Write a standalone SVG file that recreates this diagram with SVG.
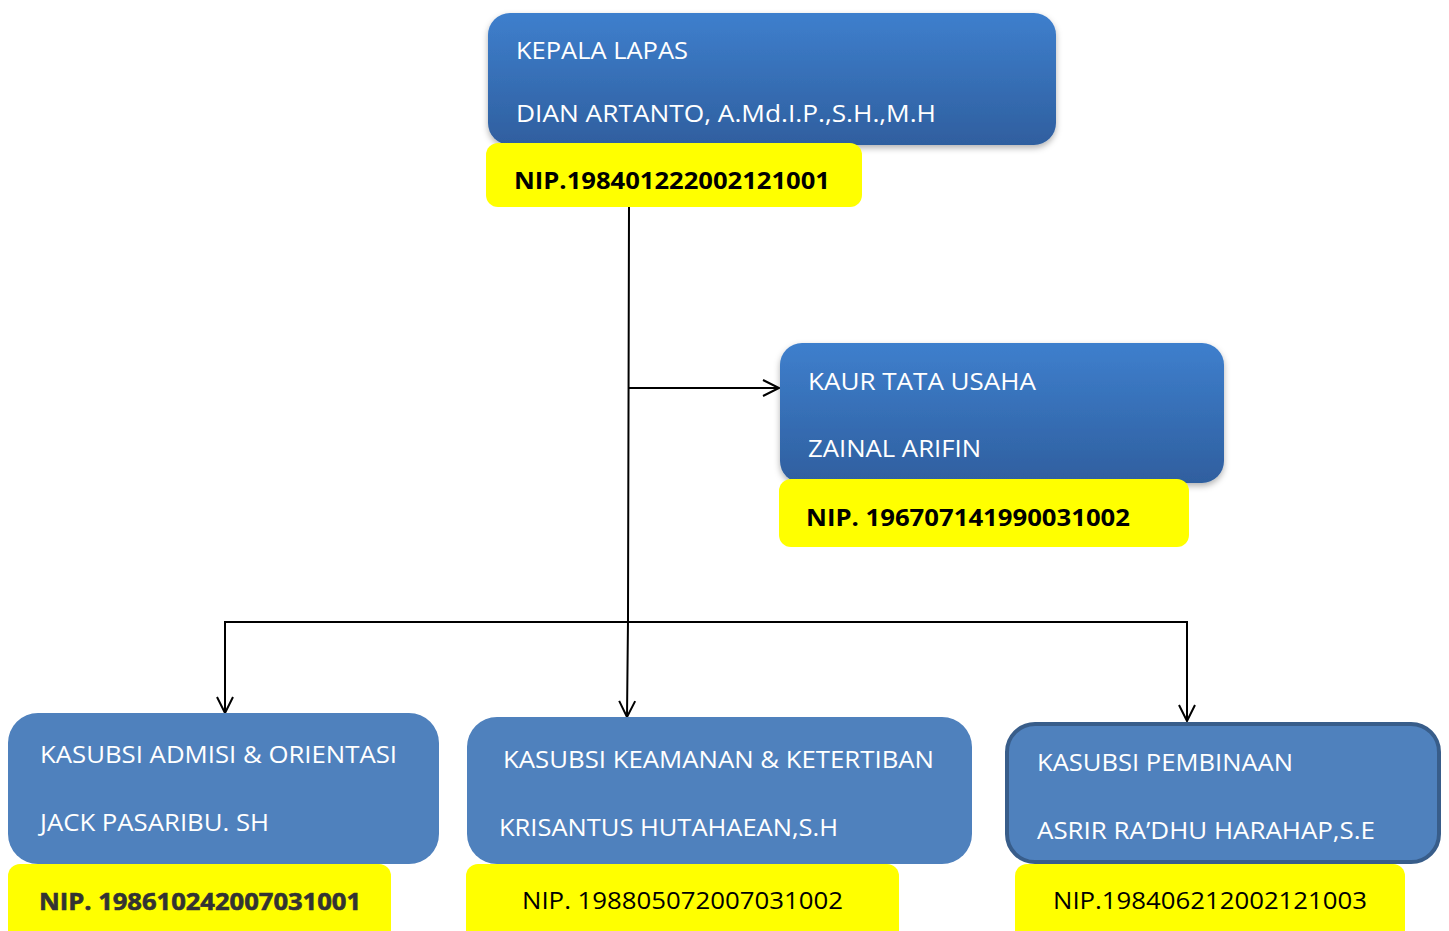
<svg xmlns="http://www.w3.org/2000/svg" width="1449" height="931" viewBox="0 0 1449 931">
<style>
.t{font-family:"Open Sans","Liberation Sans",sans-serif;font-size:24px;fill:#ffffff}
.n{font-family:"Open Sans","Liberation Sans",sans-serif;font-size:24px;fill:#000000}
.b{font-weight:bold}
.y{fill:#ffff00}
.flat{fill:#4f81bd}
.grad{fill:url(#g)}
.c{fill:none;stroke:#000;stroke-width:2}
</style>
<defs>
<linearGradient id="g" x1="0" y1="0" x2="0" y2="1">
<stop offset="0" stop-color="#3e7fcd"/>
<stop offset="1" stop-color="#2f5f9f"/>
</linearGradient>
<filter id="sh" x="-5%" y="-10%" width="110%" height="125%">
<feDropShadow dx="0" dy="3" stdDeviation="3" flood-color="#000" flood-opacity="0.3"/>
</filter>
<marker id="a" markerUnits="userSpaceOnUse" markerWidth="24" markerHeight="24" refX="18" refY="10" orient="auto" viewBox="0 0 24 20">
<path d="M2,2 L18,10 L2,18" fill="none" stroke="#000" stroke-width="2"/>
</marker>
</defs>
<g id="connectors">
<path class="c" d="M629,206 L628,620 L627,717" marker-end="url(#a)"/>
<path class="c" d="M628,388 L779,388" marker-end="url(#a)"/>
<path class="c" d="M628,622 L225,622 L225,713" marker-end="url(#a)"/>
<path class="c" d="M628,622 L1187,622 L1187,721" marker-end="url(#a)"/>
</g>
<g id="kepala">
<rect class="grad" x="488" y="13" width="568" height="132" rx="22" filter="url(#sh)"/>
<rect class="y" x="486" y="143" width="376" height="64" rx="12"/>
<text class="t" x="516" y="59" textLength="172" lengthAdjust="spacingAndGlyphs">KEPALA LAPAS</text>
<text class="t" x="516" y="122" textLength="420" lengthAdjust="spacingAndGlyphs">DIAN ARTANTO, A.Md.I.P.,S.H.,M.H</text>
<text class="n b" x="514" y="189" textLength="316" lengthAdjust="spacingAndGlyphs">NIP.198401222002121001</text>
</g>
<g id="kaur">
<rect class="grad" x="780" y="343" width="444" height="140" rx="22" filter="url(#sh)"/>
<rect class="y" x="779" y="479" width="410" height="68" rx="12"/>
<text class="t" x="808" y="390" textLength="228" lengthAdjust="spacingAndGlyphs">KAUR TATA USAHA</text>
<text class="t" x="808" y="457" textLength="173" lengthAdjust="spacingAndGlyphs">ZAINAL ARIFIN</text>
<text class="n b" x="806" y="526" textLength="324" lengthAdjust="spacingAndGlyphs">NIP. 196707141990031002</text>
</g>
<g id="admisi">
<rect class="flat" x="8" y="713" width="431" height="151" rx="30"/>
<rect class="y" x="8" y="864" width="383" height="80" rx="12"/>
<text class="t" x="40" y="763" textLength="357" lengthAdjust="spacingAndGlyphs">KASUBSI ADMISI &amp; ORIENTASI</text>
<text class="t" x="40" y="831" textLength="229" lengthAdjust="spacingAndGlyphs">JACK PASARIBU. SH</text>
<text class="n b" x="39" y="910" textLength="322" lengthAdjust="spacingAndGlyphs" style="fill:#333;stroke:#333;stroke-width:0.6">NIP. 198610242007031001</text>
</g>
<g id="keamanan">
<rect class="flat" x="467" y="717" width="505" height="147" rx="30"/>
<rect class="y" x="466" y="864" width="433" height="80" rx="12"/>
<text class="t" x="503" y="768" textLength="431" lengthAdjust="spacingAndGlyphs">KASUBSI KEAMANAN &amp; KETERTIBAN</text>
<text class="t" x="499" y="836" textLength="339" lengthAdjust="spacingAndGlyphs">KRISANTUS HUTAHAEAN,S.H</text>
<text class="n" x="522" y="909" textLength="321" lengthAdjust="spacingAndGlyphs">NIP. 198805072007031002</text>
</g>
<g id="pembinaan">
<rect class="flat" x="1007" y="724" width="432" height="138" rx="28" stroke="#385d8a" stroke-width="4"/>
<rect class="y" x="1015" y="864" width="390" height="80" rx="12"/>
<text class="t" x="1037" y="771" textLength="256" lengthAdjust="spacingAndGlyphs">KASUBSI PEMBINAAN</text>
<text class="t" x="1037" y="839" textLength="338" lengthAdjust="spacingAndGlyphs">ASRIR RA’DHU HARAHAP,S.E</text>
<text class="n" x="1053" y="909" textLength="314" lengthAdjust="spacingAndGlyphs">NIP.198406212002121003</text>
</g>
</svg>
